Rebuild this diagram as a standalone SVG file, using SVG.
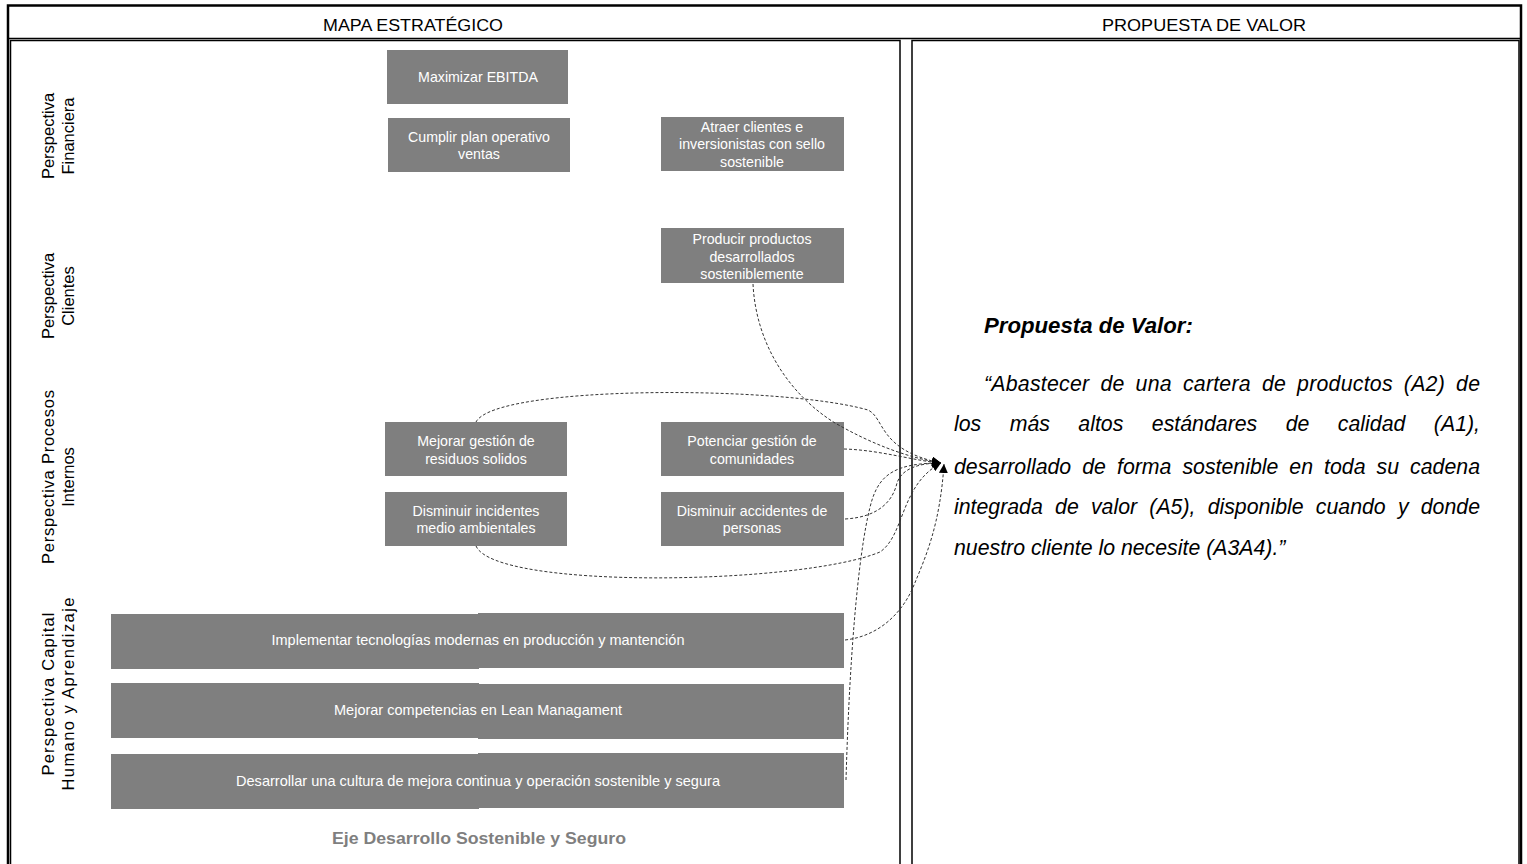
<svg xmlns="http://www.w3.org/2000/svg" width="1527" height="864" viewBox="0 0 1527 864">
  <style>
    .frame { fill: none; stroke: #000; }
    .hdr { font-family: "Liberation Sans", Arial, sans-serif; font-size: 16px; fill: #000; text-anchor: middle; }
    .box { fill: #7f7f7f; }
    .lbl { font-family: "Liberation Sans", Arial, sans-serif; font-size: 14.2px; fill: #fff; text-anchor: middle; }
    .side { font-family: "Liberation Sans", Arial, sans-serif; font-size: 16.5px; fill: #000; text-anchor: middle; }
    .axis { font-family: "Liberation Sans", Arial, sans-serif; font-size: 16px; font-weight: bold; fill: #7f7f7f; text-anchor: middle; }
    .vp { font-family: "Liberation Sans", Arial, sans-serif; font-size: 21.3px; font-style: italic; fill: #000; }
    .vp-title { font-weight: bold; font-size: 22.2px; }
    .link { fill: none; stroke: #333; stroke-width: 1; stroke-dasharray: 3 2; }
  </style>
  <defs>
    <marker id="arrow" viewBox="0 0 10 10" refX="10" refY="5" markerWidth="9" markerHeight="9" markerUnits="userSpaceOnUse" orient="auto">
      <path d="M0,0 L10,5 L0,10 z" fill="#000"/>
    </marker>
  </defs>

  <rect width="1527" height="864" fill="#fff"/>

  <!-- table frame -->
  <g id="frame">
    <rect class="frame" x="8" y="5.5" width="1513" height="870" stroke-width="2.5"/>
    <line class="frame" x1="8" y1="38.5" x2="1521" y2="38.5" stroke-width="1.5"/>
    <rect class="frame" x="10.5" y="40.5" width="889.5" height="830" stroke-width="1.5"/>
    <rect class="frame" x="912" y="40.5" width="607" height="830" stroke-width="1.5"/>
    <text class="hdr" x="413" y="31" textLength="180" lengthAdjust="spacingAndGlyphs">MAPA ESTRATÉGICO</text>
    <text class="hdr" x="1204" y="31" textLength="204" lengthAdjust="spacingAndGlyphs">PROPUESTA DE VALOR</text>
  </g>

  <!-- perspective labels -->
  <g id="persp-financiera" transform="translate(0,136)">
    <text class="side" transform="translate(54,0) rotate(-90)">Perspectiva</text>
    <text class="side" transform="translate(74,0) rotate(-90)">Financiera</text>
  </g>
  <g id="persp-clientes" transform="translate(0,296)">
    <text class="side" transform="translate(54,0) rotate(-90)">Perspectiva</text>
    <text class="side" transform="translate(74,0) rotate(-90)">Clientes</text>
  </g>
  <g id="persp-procesos" transform="translate(0,477)">
    <text class="side" transform="translate(54,0) rotate(-90)" textLength="174" lengthAdjust="spacing">Perspectiva Procesos</text>
    <text class="side" transform="translate(74,0) rotate(-90)">Internos</text>
  </g>
  <g id="persp-capital" transform="translate(0,694)">
    <text class="side" transform="translate(54,0) rotate(-90)" textLength="163" lengthAdjust="spacing">Perspectiva Capital</text>
    <text class="side" transform="translate(74,0) rotate(-90)" textLength="193" lengthAdjust="spacing">Humano y Aprendizaje</text>
  </g>

  <!-- objectives -->
  <g id="maximizar-ebitda">
    <rect class="box" x="387" y="50" width="181" height="54"/>
    <text class="lbl" x="478" y="82">Maximizar  EBITDA</text>
  </g>
  <g id="cumplir-plan">
    <rect class="box" x="388" y="118" width="182" height="54"/>
    <text class="lbl" x="479" y="142">Cumplir plan operativo</text>
    <text class="lbl" x="479" y="159">ventas</text>
  </g>
  <g id="atraer-clientes">
    <rect class="box" x="661" y="117" width="183" height="54"/>
    <text class="lbl" x="752" y="132">Atraer clientes e</text>
    <text class="lbl" x="752" y="149">inversionistas con sello</text>
    <text class="lbl" x="752" y="167">sostenible</text>
  </g>
  <g id="producir-productos">
    <rect class="box" x="661" y="228" width="183" height="55"/>
    <text class="lbl" x="752" y="244">Producir productos</text>
    <text class="lbl" x="752" y="262">desarrollados</text>
    <text class="lbl" x="752" y="279">sosteniblemente</text>
  </g>
  <g id="mejorar-residuos">
    <rect class="box" x="385" y="422" width="182" height="54"/>
    <text class="lbl" x="476" y="446">Mejorar gestión de</text>
    <text class="lbl" x="476" y="464">residuos solidos</text>
  </g>
  <g id="potenciar-comunidades">
    <rect class="box" x="661" y="422" width="183" height="54"/>
    <text class="lbl" x="752" y="446">Potenciar gestión de</text>
    <text class="lbl" x="752" y="464">comunidades</text>
  </g>
  <g id="disminuir-incidentes">
    <rect class="box" x="385" y="492" width="182" height="54"/>
    <text class="lbl" x="476" y="516">Disminuir incidentes</text>
    <text class="lbl" x="476" y="533">medio ambientales</text>
  </g>
  <g id="disminuir-accidentes">
    <rect class="box" x="661" y="492" width="183" height="54"/>
    <text class="lbl" x="752" y="516">Disminuir accidentes de</text>
    <text class="lbl" x="752" y="533">personas</text>
  </g>
  <g id="implementar-tecnologias">
    <rect class="box" x="111" y="614" width="368" height="55"/>
    <rect class="box" x="478" y="613" width="366" height="55"/>
    <text class="lbl" x="478" y="645" textLength="413" lengthAdjust="spacingAndGlyphs">Implementar tecnologías modernas en producción y mantención</text>
  </g>
  <g id="mejorar-lean">
    <rect class="box" x="111" y="683" width="368" height="55"/>
    <rect class="box" x="478" y="684" width="366" height="55"/>
    <text class="lbl" x="478" y="715" textLength="288" lengthAdjust="spacingAndGlyphs">Mejorar competencias en Lean Managament</text>
  </g>
  <g id="cultura-mejora">
    <rect class="box" x="111" y="754" width="368" height="55"/>
    <rect class="box" x="478" y="753" width="366" height="55"/>
    <text class="lbl" x="478" y="786" textLength="484" lengthAdjust="spacingAndGlyphs">Desarrollar una cultura de mejora continua y operación sostenible y segura</text>
  </g>
  <g id="eje">
    <text class="axis" x="479" y="844" textLength="294" lengthAdjust="spacingAndGlyphs">Eje Desarrollo Sostenible y Seguro</text>
  </g>

  <!-- value proposition: justified lines widen the word gaps -->
  <g id="propuesta-valor">
    <text class="vp vp-title" x="984" y="333">Propuesta de Valor:</text>
    <text class="vp" x="984" y="391" word-spacing="4.9" textLength="496" lengthAdjust="spacing">“Abastecer de una cartera de productos (A2) de</text>
    <text class="vp" x="954" y="431" word-spacing="22.5" textLength="526" lengthAdjust="spacing">los más altos estándares de calidad (A1),</text>
    <text class="vp" x="954" y="474" word-spacing="5.1" textLength="526" lengthAdjust="spacing">desarrollado de forma sostenible en toda su cadena</text>
    <text class="vp" x="954" y="514" word-spacing="6.3" textLength="526" lengthAdjust="spacing">integrada de valor (A5), disponible cuando y donde</text>
    <text class="vp" x="954" y="555">nuestro cliente lo necesite (A3A4).”</text>
  </g>

  <!-- connectors -->
  <g id="connectors">
    <path class="link" marker-end="url(#arrow)" d="M753,284 C756,345 790,395 835,423 C870,443 905,457 941,463"/>
    <path class="link" marker-end="url(#arrow)" d="M476,422 C495,385 780,385 868,410 C885,418 878,450 941,463"/>
    <path class="link" marker-end="url(#arrow)" d="M844,449 C880,450 915,461 941,463"/>
    <path class="link" marker-end="url(#arrow)" d="M845,519 C880,517 893,500 897,483 C902,468 920,463 941,463"/>
    <path class="link" marker-end="url(#arrow)" d="M476,546 C495,590 800,585 880,552 C905,535 900,485 941,463"/>
    <path class="link" marker-end="url(#arrow)" d="M845,640 C880,636 903,612 914,585 C926,556 940,525 944,464"/>
    <path class="link" marker-end="url(#arrow)" d="M846,780 C850,640 860,540 872,500 C880,475 895,463 941,463"/>
  </g>
</svg>
